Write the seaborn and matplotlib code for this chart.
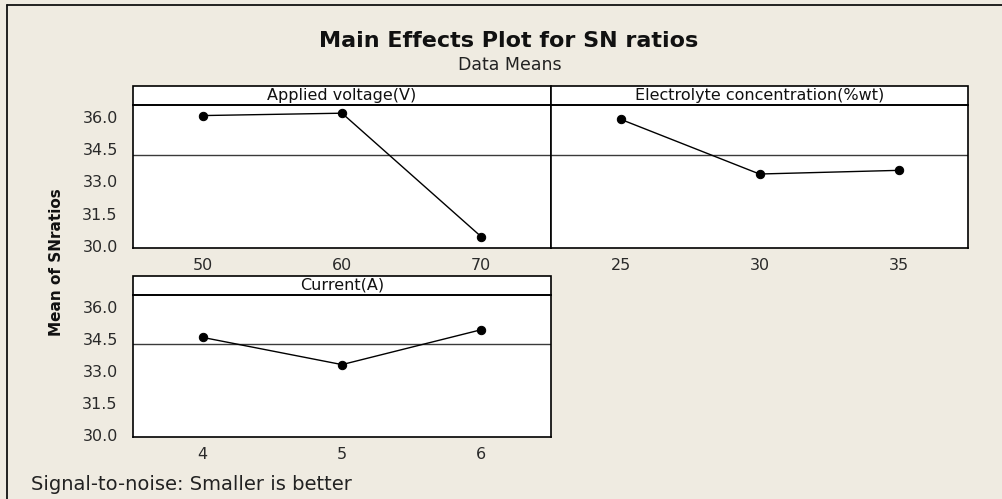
import numpy as np
import pandas as pd
import matplotlib
matplotlib.use("Agg")
import matplotlib.pyplot as plt
from matplotlib.patches import Rectangle
from matplotlib.lines import Line2D
import seaborn as sns

# data
voltage_levels = [50, 60, 70]
voltage_sn = [36.05, 36.16, 30.43]
conc_levels = [25, 30, 35]
conc_sn = [35.88, 33.34, 33.51]
current_levels = [4, 5, 6]
current_sn = [34.56, 33.29, 34.92]
factor_names = ["Applied voltage(V)", "Electrolyte concentration(%wt)", "Current(A)"]
grand_mean = 34.24
y_ticks = [30.0, 31.5, 33.0, 34.5, 36.0]

sns.set_style("white")
plt.rcParams["font.family"] = ["DejaVu Sans"]

BG = "#efebe1"
W, H = 1003, 499
fig = plt.figure(figsize=(W / 100, H / 100), dpi=100, facecolor=BG)


def px_axes(x0, y0, x1, y1):
    """axes from pixel box (top-left origin)"""
    return fig.add_axes([x0 / W, 1 - y1 / H, (x1 - x0) / W, (y1 - y0) / H])


def draw_panel(ax, levels, values, name, show_y):
    df = pd.DataFrame({"level": levels, "sn": values})
    ax.set_facecolor("white")
    ax.axhline(grand_mean, color="#3a3a3a", lw=1.0, zorder=1)
    sns.lineplot(data=df, x="level", y="sn", ax=ax, color="black", lw=1.0,
                 marker="o", markersize=6, markeredgecolor="black", zorder=3)
    step = levels[1] - levels[0]
    ax.set_xlim(levels[0] - step / 2, levels[-1] + step / 2)
    ax.set_ylim(29.91, 36.54)
    ax.set_xticks(levels)
    ax.set_xticklabels([str(v) for v in levels])
    ax.set_yticks(y_ticks)
    ax.set_yticklabels([f"{v:.1f}" for v in y_ticks] if show_y else [])
    ax.tick_params(axis="both", direction="out", length=6, width=1, color="black",
                   labelsize=11.5, labelcolor="#2a2a2a", pad=5)
    ax.tick_params(axis="x", pad=1)
    if not show_y:
        ax.tick_params(axis="y", length=0)
    ax.set_xlabel("")
    ax.set_ylabel("")
    for s in ax.spines.values():
        s.set_color("black")
        s.set_linewidth(1.2)
    # strip on top
    strip_h = 19 / (ax.get_position().height * H)
    ax.add_patch(Rectangle((0, 1), 1, strip_h, transform=ax.transAxes,
                           facecolor="white", edgecolor="black", lw=1.2, clip_on=False))
    ax.text(0.5, 1 + strip_h / 2, name, transform=ax.transAxes, ha="center",
            va="center", fontsize=11.5, color="#111111")


ax1 = px_axes(133, 105, 551, 248)
ax2 = px_axes(551, 105, 968, 248)
ax3 = px_axes(133, 295, 551, 437)

draw_panel(ax1, voltage_levels, voltage_sn, factor_names[0], True)
draw_panel(ax2, conc_levels, conc_sn, factor_names[1], False)
draw_panel(ax3, current_levels, current_sn, factor_names[2], True)

# outer frame (only top/left visible in the crop)
fig.add_artist(Line2D([7 / W, 1.0], [1 - 5 / H, 1 - 5 / H], color="#111111", lw=1.3))
fig.add_artist(Line2D([7 / W, 7 / W], [0, 1 - 5 / H], color="#111111", lw=1.3))

fig.text(509 / W, 1 - 41 / H, "Main Effects Plot for SN ratios", ha="center",
         va="center", fontsize=16, fontweight="bold", color="#111111")
fig.text(510 / W, 1 - 65 / H, "Data Means", ha="center", va="center",
         fontsize=12.5, color="#222222")
fig.text(57 / W, 1 - 262 / H, "Mean of SNratios", ha="center", va="center",
         rotation=90, fontsize=11, fontweight="bold", color="#111111")
fig.text(31 / W, 1 - 484 / H, "Signal-to-noise: Smaller is better", ha="left",
         va="center", fontsize=14, color="#222222")

fig.savefig("out.png", dpi=100, facecolor=BG)
